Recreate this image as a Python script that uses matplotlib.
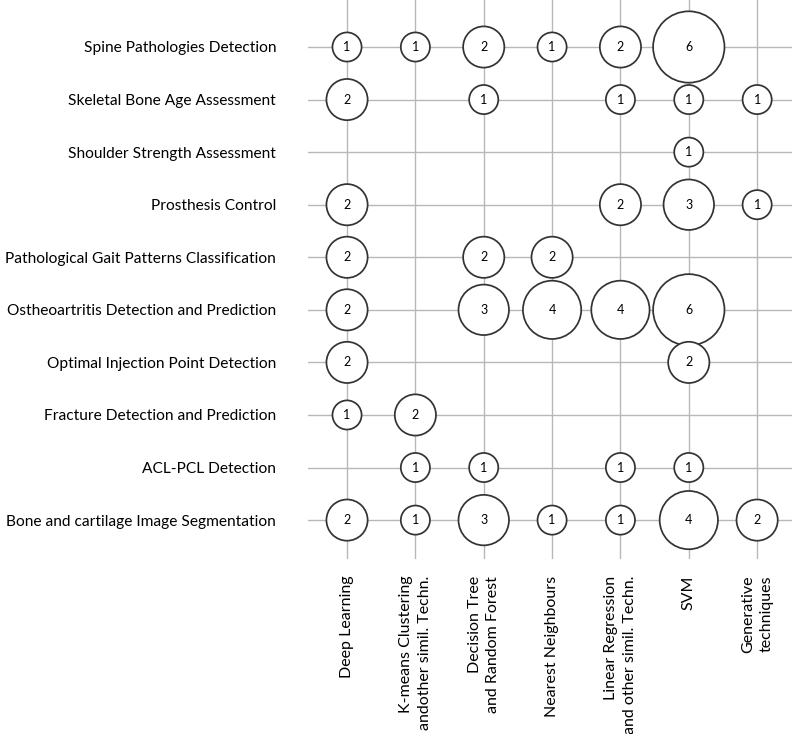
import matplotlib
matplotlib.use("Agg")
import matplotlib.pyplot as plt
import numpy as np

tasks = [
    "Spine Pathologies Detection",
    "Skeletal Bone Age Assessment",
    "Shoulder Strength Assessment",
    "Prosthesis Control",
    "Pathological Gait Patterns Classification",
    "Ostheoartritis Detection and Prediction",
    "Optimal Injection Point Detection",
    "Fracture Detection and Prediction",
    "ACL-PCL Detection",
    "Bone and cartilage Image Segmentation",
]
methods = [
    "Deep Learning",
    "K-means Clustering\nandother simil. Techn.",
    "Decision Tree\nand Random Forest",
    "Nearest Neighbours",
    "Linear Regression\nand other simil. Techn.",
    "SVM",
    "Generative\ntechniques",
]
counts = [
    [1, 1, 2, 1, 2, 6, 0],
    [2, 0, 1, 0, 1, 1, 1],
    [0, 0, 0, 0, 0, 1, 0],
    [2, 0, 0, 0, 2, 3, 1],
    [2, 0, 2, 2, 0, 0, 0],
    [2, 0, 3, 4, 4, 6, 0],
    [2, 0, 0, 0, 0, 2, 0],
    [1, 2, 0, 0, 0, 0, 0],
    [0, 1, 1, 0, 1, 1, 0],
    [2, 1, 3, 1, 1, 4, 2],
]

plt.rcParams['font.family'] = ['Lato', 'DejaVu Sans']

fig = plt.figure(figsize=(7.94, 7.34), dpi=100)
ax = fig.add_axes([308/794, 1-559/734, (792-308)/794, 559/734])

xs, ys, vs = [], [], []
for i, row in enumerate(counts):
    for j, v in enumerate(row):
        if v > 0:
            xs.append(j); ys.append(i); vs.append(v)
xs = np.array(xs); ys = np.array(ys); vs = np.array(vs)

ax.scatter(xs, ys, s=vs*440, facecolor='white', edgecolor='#333333', linewidth=1.25, zorder=3)
for x, y, v in zip(xs, ys, vs):
    ax.text(x, y, str(v), ha='center', va='center', fontsize=9, color='black', zorder=4)

ax.set_xlim(-0.571, 6.51)
ax.set_ylim(9.74, -0.894)
ax.set_xticks(range(len(methods)))
ax.set_xticklabels(methods, rotation=90, fontsize=11.5, multialignment='right', linespacing=1.4)
ax.set_yticks(range(len(tasks)))
ax.set_yticklabels(tasks, fontsize=11.2)
ax.tick_params(axis='both', length=0, labelcolor='black')
ax.tick_params(axis='y', pad=23)
ax.tick_params(axis='x', pad=12)
ax.grid(True, color='#b8b8b8', linewidth=1.0, zorder=0)
ax.set_axisbelow(True)
for s in ax.spines.values():
    s.set_visible(False)

fig.savefig("out.png", dpi=100)
